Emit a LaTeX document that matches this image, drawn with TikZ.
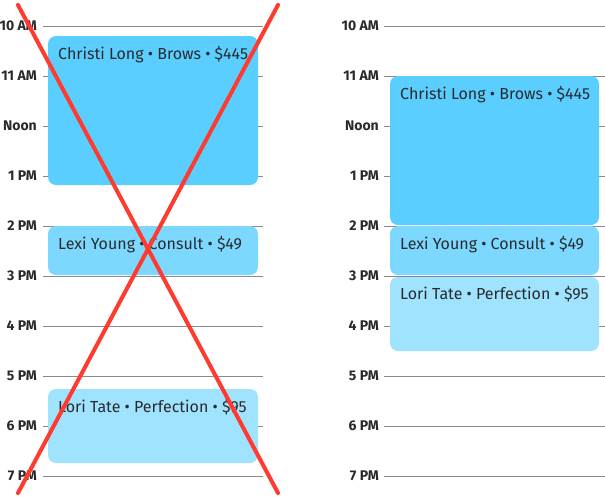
\documentclass[tikz,border=0pt]{standalone}
\usepackage{fontspec}
\setmainfont{Fira Sans}
\definecolor{gridc}{HTML}{8A8A8E}
\definecolor{txtc}{HTML}{2A2A2E}
\definecolor{cA}{HTML}{5ACEFF}
\definecolor{cB}{HTML}{7DD8FF}
\definecolor{cC}{HTML}{A0E3FF}
\definecolor{redx}{HTML}{FF3B30}
\tikzset{
  hourline/.style={draw=gridc, line width=1pt},
  hourlabel/.style={anchor=east, inner sep=0pt, text=txtc, font=\fontsize{14}{14}\selectfont\bfseries},
  appt/.style={rounded corners=8pt, inner sep=0pt},
  appttext/.style={anchor=base west, inner sep=0pt, text=txtc, font=\fontsize{16}{16}\selectfont},
  cross/.style={draw=redx, line width=4pt, line cap=round}
}
\begin{document}
\begin{tikzpicture}[x=1pt,y=-1pt]
\useasboundingbox (0,0) rectangle (605,498);
\fill[white] (0,0) rectangle (605,498);
% hour grid, both panels
\foreach \t [count=\i from 0] in {10 AM,11 AM,Noon,1 PM,2 PM,3 PM,4 PM,5 PM,6 PM,7 PM}{
  \pgfmathsetmacro{\yy}{26+50*\i}
  \draw[hourline] (43,\yy) -- (263,\yy);
  \node[hourlabel] (L\i) at (37,\yy) {\t};
  \draw[hourline] (384,\yy) -- (605,\yy);
  \node[hourlabel] (R\i) at (379,\yy) {\t};
}
% left boxes
\fill[appt, cA] (48,36) rectangle (258,185);
\node[appttext] (lc) at (58,59) {Christi Long • Brows • \$445};
\fill[appt, cB] (48,226) rectangle (258,275);
\node[appttext] (ll) at (58,249) {Lexi Young • Consult • \$49};
\fill[appt, cC] (48,389) rectangle (258,463);
\node[appttext] (lt) at (58,412) {Lori Tate • Perfection • \$95};
% right boxes
\fill[appt, cA] (390,76) rectangle (599,225);
\node[appttext] (rc) at (400,99) {Christi Long • Brows • \$445};
\fill[appt, cB] (390,226) rectangle (599,275);
\node[appttext] (rl) at (400,249) {Lexi Young • Consult • \$49};
\fill[appt, cC] (390,277) rectangle (599,351);
\node[appttext] (rt) at (400,299) {Lori Tate • Perfection • \$95};
% red cross
\coordinate (xa) at (18,5);
\coordinate (xb) at (278,493);
\coordinate (xc) at (278,5);
\coordinate (xd) at (18,493);
\draw[cross] (xa) -- (xb);
\draw[cross] (xc) -- (xd);
\end{tikzpicture}
\end{document}
